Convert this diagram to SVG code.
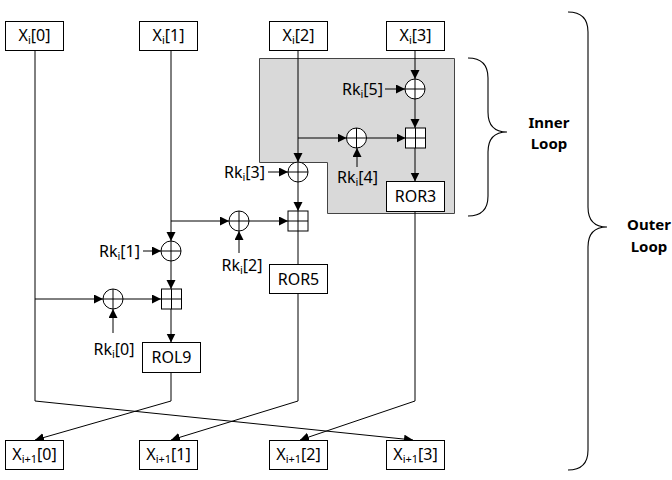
<svg xmlns="http://www.w3.org/2000/svg" width="672" height="480" viewBox="0 0 672 480">
  <style>
    .box { fill: #fff; stroke: #000; stroke-width: 1; }
    .op { fill: #fff; stroke: #000; stroke-width: 1; }
    .wire { fill: none; stroke: #000; stroke-width: 1; }
    .arr { fill: none; stroke: #000; stroke-width: 1; marker-end: url(#ah); }
    .lbl { font-family: "Noto Sans", "Open Sans", sans-serif; font-size: 16px; fill: #000; }
    .sub { font-size: 11px; }
    .loop { font-family: "Noto Sans", "Open Sans", sans-serif; font-size: 15px; font-weight: bold; fill: #000; }
    .brace { fill: none; stroke: #000; stroke-width: 1.1; }
  </style>
  <defs>
    <marker id="ah" markerUnits="userSpaceOnUse" markerWidth="10" markerHeight="10" refX="9" refY="4.5" orient="auto">
      <path d="M0,0 L9,4.5 L0,9 Z" fill="#000"/>
    </marker>
    <!-- XOR: circle with cross -->
    <g id="xor">
      <circle cx="0" cy="0" r="10" class="op"/>
      <path d="M-10,0 H10 M0,-10 V10" class="wire"/>
    </g>
    <!-- modular addition: square with cross -->
    <g id="add">
      <rect x="-10" y="-10" width="20" height="20" class="op"/>
      <path d="M-10,0 H10 M0,-10 V10" class="wire"/>
    </g>
  </defs>

  <!-- inner loop shaded region -->
  <path id="inner-region" d="M259.5,58.5 H454.5 V213.5 H327.5 V162.5 H259.5 Z" fill="#d9d9d9" stroke="#444" stroke-width="1"/>

  <!-- connectors -->
  <g id="connectors">
    <!-- X[0] path -->
    <path class="wire" d="M35,50 V401"/>
    <path class="arr" d="M35,401 L413,440"/>
    <path class="arr" d="M35,299 H103"/>
    <path class="arr" d="M123,299 H161"/>
    <path class="arr" d="M113,333 V309"/>
    <path class="arr" d="M171,309 V342.5"/>
    <path class="wire" d="M171,372.5 V401"/>
    <path class="arr" d="M171,401 L35,440"/>

    <!-- X[1] path -->
    <path class="arr" d="M171,50 V241"/>
    <path class="arr" d="M171,221 H229"/>
    <path class="arr" d="M249,221 H288"/>
    <path class="arr" d="M239,253 V231"/>
    <path class="arr" d="M143,251 H161"/>
    <path class="arr" d="M171,261 V289"/>

    <!-- X[2] path -->
    <path class="arr" d="M298,50 V162"/>
    <path class="arr" d="M298,138 H346.5"/>
    <path class="arr" d="M366.5,138 H405.5"/>
    <path class="arr" d="M357,167 V148"/>
    <path class="arr" d="M268,172 H288"/>
    <path class="arr" d="M298,182 V211"/>
    <path class="wire" d="M298,231 V264.5"/>
    <path class="wire" d="M298,293.5 V401"/>
    <path class="arr" d="M298,401 L171,440"/>

    <!-- X[3] path -->
    <path class="arr" d="M415,50 V79"/>
    <path class="arr" d="M385,89 H405"/>
    <path class="arr" d="M415,99 V128"/>
    <path class="arr" d="M415,148 V181.5"/>
    <path class="wire" d="M415,211.5 V401"/>
    <path class="arr" d="M415,401 L300,440"/>
  </g>

  <!-- operators -->
  <g id="xor-k5"><use href="#xor" x="415" y="89"/></g>
  <g id="xor-k4"><use href="#xor" x="356.5" y="138"/></g>
  <g id="add-3"><use href="#add" x="415.5" y="138"/></g>
  <g id="xor-k3"><use href="#xor" x="298" y="172"/></g>
  <g id="xor-k2"><use href="#xor" x="239" y="221"/></g>
  <g id="add-2"><use href="#add" x="298" y="221"/></g>
  <g id="xor-k1"><use href="#xor" x="171" y="251"/></g>
  <g id="xor-k0"><use href="#xor" x="113" y="299"/></g>
  <g id="add-1"><use href="#add" x="171.5" y="299"/></g>

  <!-- round key labels -->
  <g id="rk5"><text class="lbl" x="383" y="95" text-anchor="end">Rk<tspan class="sub" dy="3">i</tspan><tspan dy="-3">[5]</tspan></text></g>
  <g id="rk4"><text class="lbl" x="357.5" y="183" text-anchor="middle">Rk<tspan class="sub" dy="3">i</tspan><tspan dy="-3">[4]</tspan></text></g>
  <g id="rk3"><text class="lbl" x="265" y="178" text-anchor="end">Rk<tspan class="sub" dy="3">i</tspan><tspan dy="-3">[3]</tspan></text></g>
  <g id="rk2"><text class="lbl" x="242" y="271" text-anchor="middle">Rk<tspan class="sub" dy="3">i</tspan><tspan dy="-3">[2]</tspan></text></g>
  <g id="rk1"><text class="lbl" x="140" y="257" text-anchor="end">Rk<tspan class="sub" dy="3">i</tspan><tspan dy="-3">[1]</tspan></text></g>
  <g id="rk0"><text class="lbl" x="114" y="355" text-anchor="middle">Rk<tspan class="sub" dy="3">i</tspan><tspan dy="-3">[0]</tspan></text></g>

  <!-- rotation boxes -->
  <g id="ror3">
    <rect class="box" x="386.5" y="181.5" width="58" height="30"/>
    <text class="lbl" x="415.5" y="202" text-anchor="middle">ROR3</text>
  </g>
  <g id="ror5">
    <rect class="box" x="269.5" y="264.5" width="58" height="29"/>
    <text class="lbl" x="298.5" y="285" text-anchor="middle">ROR5</text>
  </g>
  <g id="rol9">
    <rect class="box" x="142.5" y="342.5" width="58" height="30"/>
    <text class="lbl" x="171.5" y="363" text-anchor="middle">ROL9</text>
  </g>

  <!-- input words -->
  <g id="x0">
    <rect class="box" x="5.5" y="21.5" width="58" height="29"/>
    <text class="lbl" x="34.5" y="41" text-anchor="middle">X<tspan class="sub" dy="3">i</tspan><tspan dy="-3">[0]</tspan></text>
  </g>
  <g id="x1">
    <rect class="box" x="139.5" y="21.5" width="58" height="29"/>
    <text class="lbl" x="168.5" y="41" text-anchor="middle">X<tspan class="sub" dy="3">i</tspan><tspan dy="-3">[1]</tspan></text>
  </g>
  <g id="x2">
    <rect class="box" x="269.5" y="21.5" width="58" height="29"/>
    <text class="lbl" x="298.5" y="41" text-anchor="middle">X<tspan class="sub" dy="3">i</tspan><tspan dy="-3">[2]</tspan></text>
  </g>
  <g id="x3">
    <rect class="box" x="386.5" y="21.5" width="58" height="29"/>
    <text class="lbl" x="415.5" y="41" text-anchor="middle">X<tspan class="sub" dy="3">i</tspan><tspan dy="-3">[3]</tspan></text>
  </g>

  <!-- output words -->
  <g id="y0">
    <rect class="box" x="5.5" y="440.5" width="58" height="29"/>
    <text class="lbl" x="34.5" y="460" text-anchor="middle">X<tspan class="sub" dy="3">i+1</tspan><tspan dy="-3">[0]</tspan></text>
  </g>
  <g id="y1">
    <rect class="box" x="139.5" y="440.5" width="58" height="29"/>
    <text class="lbl" x="168.5" y="460" text-anchor="middle">X<tspan class="sub" dy="3">i+1</tspan><tspan dy="-3">[1]</tspan></text>
  </g>
  <g id="y2">
    <rect class="box" x="269.5" y="440.5" width="58" height="29"/>
    <text class="lbl" x="298.5" y="460" text-anchor="middle">X<tspan class="sub" dy="3">i+1</tspan><tspan dy="-3">[2]</tspan></text>
  </g>
  <g id="y3">
    <rect class="box" x="386.5" y="440.5" width="58" height="29"/>
    <text class="lbl" x="415.5" y="460" text-anchor="middle">X<tspan class="sub" dy="3">i+1</tspan><tspan dy="-3">[3]</tspan></text>
  </g>

  <!-- loop braces -->
  <g id="inner-loop">
    <path class="brace" d="M468,58 Q488,58 488,78 V112 Q488,132 507,132 Q488,132 488,152 V196 Q488,216 468,216"/>
    <text class="loop" x="549" y="128" text-anchor="middle">Inner</text>
    <text class="loop" x="549" y="149" text-anchor="middle">Loop</text>
  </g>
  <g id="outer-loop">
    <path class="brace" d="M568,12 Q588,12 588,32 V207 Q588,227 607,227 Q588,227 588,247 V450 Q588,470 568,470"/>
    <text class="loop" x="649" y="230" text-anchor="middle">Outer</text>
    <text class="loop" x="649" y="252" text-anchor="middle">Loop</text>
  </g>
</svg>
